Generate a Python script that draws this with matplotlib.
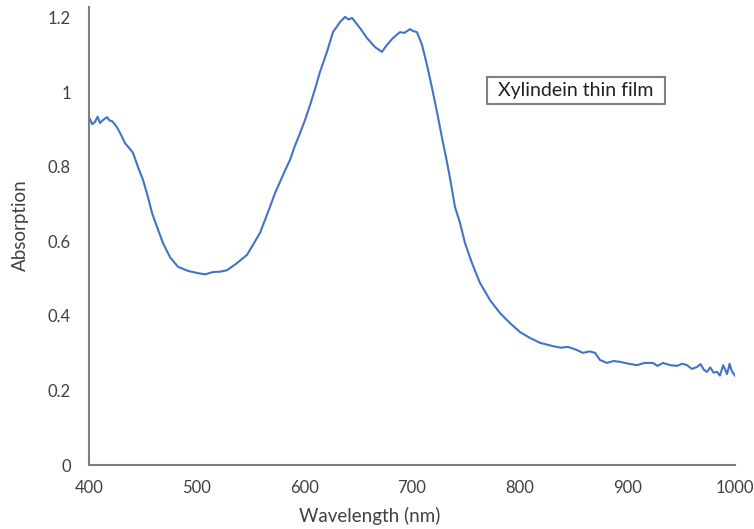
import matplotlib
matplotlib.use("Agg")
import matplotlib.pyplot as plt
from matplotlib.ticker import FuncFormatter
from matplotlib.patches import Rectangle

# Data
wavelength = [400, 403, 405.6, 408, 410.2, 413, 416.7, 419, 421.4, 424,
              426.9, 430, 433.4, 437, 440.9, 445.5, 450.2, 454.8, 458.5, 463.2,
              468.7, 475.2, 482.7, 492.0, 501.2, 508, 515.2, 522, 528.2, 537.5,
              546.7, 552.3, 558.8, 563.5, 568.1, 572.8, 577.4, 582, 586.7, 591,
              596.0, 600.5, 605.3, 610, 614.5, 621.0, 626.6, 633.1, 637.8, 641,
              644.3, 651.7, 658.2, 665.6, 672.1, 676.8, 682.3, 688.8, 693, 698.1,
              701, 704.6, 709.3, 713.9, 718.6, 723.2, 727.9, 732.5, 735.3, 739.9,
              744.6, 749.2, 755.7, 763.1, 772.4, 781.7, 791.0, 800.3, 809.6, 818.9,
              831.0, 838, 844.9, 852, 858.8, 865, 870.0, 874.6, 881.1, 887,
              893.2, 901, 909.0, 916, 923.8, 928, 933.1, 940, 946.1, 951,
              955.4, 960, 964.7, 968, 971, 974.0, 977, 980, 983.3, 986,
              989, 992.6, 995, 997, 1000]
absorption = [0.934, 0.915, 0.921, 0.935, 0.918, 0.926, 0.934, 0.925, 0.923, 0.915,
              0.902, 0.885, 0.864, 0.852, 0.838, 0.800, 0.765, 0.719, 0.677, 0.639,
              0.596, 0.558, 0.532, 0.521, 0.515, 0.512, 0.518, 0.519, 0.523, 0.542,
              0.564, 0.591, 0.623, 0.658, 0.693, 0.730, 0.760, 0.790, 0.819, 0.855,
              0.891, 0.925, 0.966, 1.010, 1.055, 1.109, 1.162, 1.189, 1.203, 1.196,
              1.200, 1.173, 1.146, 1.122, 1.109, 1.128, 1.146, 1.162, 1.160, 1.170,
              1.165, 1.162, 1.128, 1.074, 1.012, 0.948, 0.878, 0.813, 0.770, 0.693,
              0.650, 0.596, 0.542, 0.489, 0.443, 0.408, 0.381, 0.357, 0.341, 0.328,
              0.319, 0.315, 0.317, 0.310, 0.301, 0.305, 0.301, 0.282, 0.274, 0.279,
              0.277, 0.272, 0.268, 0.274, 0.274, 0.266, 0.274, 0.268, 0.266, 0.272,
              0.268, 0.258, 0.263, 0.271, 0.256, 0.250, 0.262, 0.248, 0.250, 0.240,
              0.268, 0.244, 0.272, 0.252, 0.240]

xticks = [400, 500, 600, 700, 800, 900, 1000]
yticks = [0, 0.2, 0.4, 0.6, 0.8, 1.0, 1.2]

plt.rcParams['font.family'] = ['Lato', 'DejaVu Sans']

W, H = 754, 529
fig = plt.figure(figsize=(7.54, 5.29), dpi=100)
ax = fig.add_axes([89/W, 64/H, (735-89)/W, (465-7)/H])

ax.plot(wavelength, absorption, color='#4472C4', linewidth=1.5)

ax.set_xlim(400, 1000)
ax.set_ylim(0, 1.2295)
ax.set_xticks(xticks)
ax.set_yticks(yticks)
ax.yaxis.set_major_formatter(FuncFormatter(lambda v, p: f"{v:g}"))
ax.tick_params(axis='both', length=0, labelsize=12, labelcolor='#404040')
ax.tick_params(axis='y', pad=13)
ax.tick_params(axis='x', pad=11)

for s in ['top', 'right']:
    ax.spines[s].set_visible(False)
for s in ['left', 'bottom']:
    ax.spines[s].set_color('#7f7f7f')
    ax.spines[s].set_linewidth(1.5)

fig.text(370/W, 1 - 516/H, 'Wavelength (nm)', fontsize=13.5, color='#404040',
         ha='center', va='center')
fig.text(20/W, 1 - 225/H, 'Absorption', fontsize=13.5, color='#404040',
         ha='center', va='center', rotation=90)

# annotation box
ax.add_patch(Rectangle((769.6, 0.969), 935.0 - 769.6, 1.042 - 0.969,
                       facecolor='white', edgecolor='#7f7f7f', linewidth=1.5, zorder=3))
ax.text(852.3, 1.0055, 'Xylindein thin film', fontsize=14, color='#202020',
        ha='center', va='center', zorder=4)

fig.savefig('out.png', dpi=100)
